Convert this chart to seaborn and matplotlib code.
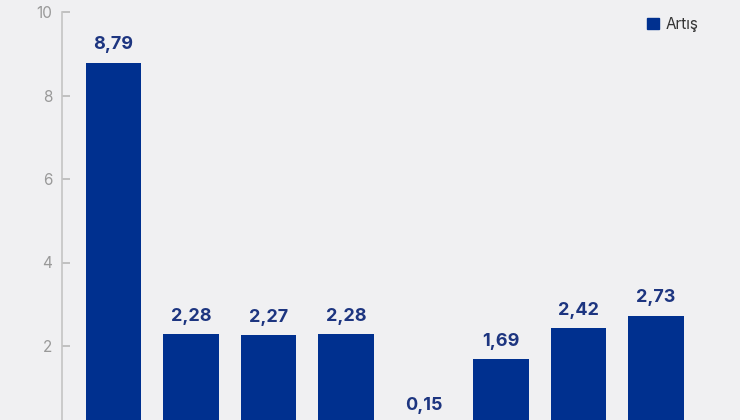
import matplotlib
matplotlib.use("Agg")
import matplotlib.pyplot as plt
from matplotlib.patches import Patch
import pandas as pd
import seaborn as sns

# veriler
kategoriler = ["K1", "K2", "K3", "K4", "K5", "K6", "K7", "K8"]
artis = [8.79, 2.28, 2.27, 2.28, 0.15, 1.69, 2.42, 2.73]
y_ticks = [2, 4, 6, 8, 10]

df = pd.DataFrame({"Kategori": kategoriler, "Artış": artis})

bg = "#f0f0f2"
bar_renk = "#00308f"
yazi_renk = "#1d3580"

sns.set_style("white")
plt.rcParams["font.family"] = ["Inter", "DejaVu Sans"]

fig = plt.figure(figsize=(7.4, 4.2), dpi=100, facecolor=bg)
ax = fig.add_axes([62 / 740, -9.5 / 420, 678 / 740, 417.5 / 420])
ax.set_facecolor(bg)

sns.barplot(data=df, x="Kategori", y="Artış", color=bar_renk, width=0.716,
            saturation=1, linewidth=0, ax=ax)

for i, v in enumerate(artis):
    ax.text(i, v + 0.42, f"{v:.2f}".replace(".", ","), ha="center", va="center",
            fontsize=13, fontweight="bold", color=yazi_renk)

ax.set_xlim(-0.665, 8.084)
ax.set_ylim(0, 10)
ax.set_yticks(y_ticks)
ax.set_yticklabels([str(t) for t in y_ticks], color="#999999", fontsize=11)
ax.tick_params(axis="y", direction="in", length=6, width=1.2, color="#b8b8b8",
               pad=7, left=True)
ax.set_xticks([])
ax.set_xlabel("")
ax.set_ylabel("")

sns.despine(ax=ax, top=True, right=True, bottom=True)
ax.spines["left"].set_color("#c4c4c4")
ax.spines["left"].set_linewidth(1.2)

ax.legend(handles=[Patch(color=bar_renk, label="Artış")], loc="center",
          bbox_to_anchor=(673 / 740, 1 - 24 / 420), bbox_transform=fig.transFigure,
          frameon=False, fontsize=11, handlelength=0.75, handleheight=0.75,
          handletextpad=0.45, labelcolor="#333333")

fig.savefig("out.png", dpi=100, facecolor=bg)
